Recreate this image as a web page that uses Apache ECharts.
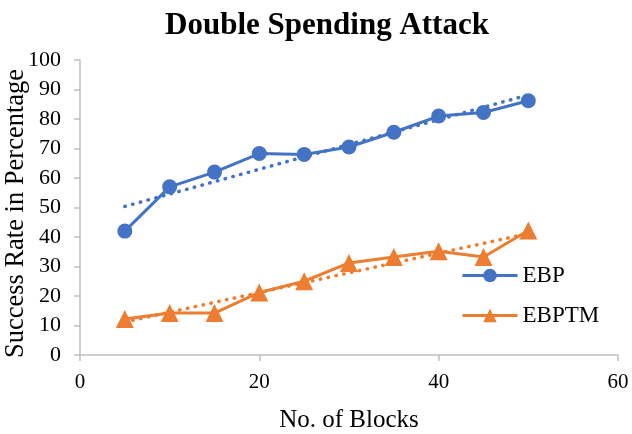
<!DOCTYPE html>
<html>
<head>
<meta charset="utf-8">
<script src="https://cdn.jsdelivr.net/npm/echarts@6/dist/echarts.min.js"></script>
<style>
  html, body { margin: 0; padding: 0; background: #fff; }
  #chart { width: 632px; height: 434px; }
</style>
</head>
<body>
<div id="chart"></div>
<script>
// Number of blocks on the x axis
const blocks = [5, 10, 15, 20, 25, 30, 35, 40, 45, 50];
// Success rate (%) per method
const ebp = [42, 57, 62, 68.3, 68, 70.5, 75.5, 81, 82.2, 86.2];
const ebptm = [12.2, 14.2, 14.2, 21.2, 25, 31.2, 33.2, 35.2, 33.2, 42.2];

const FONT = 'Liberation Serif';
const BLUE = '#4472C4';
const ORANGE = '#ED7D31';
const AXIS_GREY = '#BFBFBF';

// Least-squares linear trend over the data range
function linearTrend(xs, ys) {
  const n = xs.length;
  const mx = xs.reduce((a, b) => a + b, 0) / n;
  const my = ys.reduce((a, b) => a + b, 0) / n;
  let sxy = 0, sxx = 0;
  for (let i = 0; i < n; i++) {
    sxy += (xs[i] - mx) * (ys[i] - my);
    sxx += (xs[i] - mx) * (xs[i] - mx);
  }
  const k = sxy / sxx, b = my - k * mx;
  const x0 = xs[0], x1 = xs[n - 1];
  return [[x0, k * x0 + b], [x1, k * x1 + b]];
}

const pairs = (ys) => blocks.map((x, i) => [x, ys[i]]);

const chart = echarts.init(document.getElementById('chart'), null, { renderer: 'canvas' });

const axisLine = { show: true, lineStyle: { color: AXIS_GREY, width: 1.5 } };
const axisTick = { show: true, length: 6, lineStyle: { color: AXIS_GREY, width: 1.5 } };

function trendSeries(ys, color) {
  return {
    type: 'line',
    data: linearTrend(blocks, ys),
    symbol: 'none',
    silent: true,
    z: 1,
    lineStyle: { color: color, width: 3.5, type: [0.5, 7.5], cap: 'round' }
  };
}

chart.setOption({
  animation: false,
  backgroundColor: '#fff',
  textStyle: { fontFamily: FONT, color: '#000' },
  title: {
    text: 'Double Spending Attack',
    left: 322,
    textAlign: 'center',
    top: 5,
    textStyle: { fontFamily: FONT, fontSize: 31, fontWeight: 'bold', color: '#000' }
  },
  grid: { left: 80, right: 14, top: 60, bottom: 79, containLabel: false, outerBoundsMode: 'none' },
  legend: {
    data: ['EBP', 'EBPTM'],
    orient: 'vertical',
    left: 461,
    top: 264,
    padding: 0,
    itemWidth: 55,
    itemHeight: 17,
    itemGap: 17,
    lineStyle: { width: 3 },
    textStyle: { fontFamily: FONT, fontSize: 23, color: '#000' }
  },
  xAxis: {
    type: 'value',
    min: 0, max: 60, interval: 20,
    name: 'No. of Blocks',
    nameLocation: 'middle',
    nameGap: 53,
    nameMoveOverlap: false,
    nameTextStyle: { fontFamily: FONT, fontSize: 25, color: '#000' },
    axisLine: axisLine,
    axisTick: axisTick,
    axisLabel: { margin: 17, fontFamily: FONT, fontSize: 21, color: '#000' },
    splitLine: { show: false }
  },
  yAxis: {
    type: 'value',
    min: 0, max: 100, interval: 10,
    name: 'Success Rate in Percentage',
    nameLocation: 'middle',
    nameGap: 50,
    nameMoveOverlap: false,
    nameTextStyle: { fontFamily: FONT, fontSize: 26.5, color: '#000', padding: [0, 12, 0, 0] },
    axisLine: axisLine,
    axisTick: axisTick,
    axisLabel: { margin: 19, fontFamily: FONT, fontSize: 22, color: '#000' },
    splitLine: { show: false }
  },
  series: [
    trendSeries(ebp, BLUE),
    trendSeries(ebptm, ORANGE),
    {
      name: 'EBP',
      type: 'line',
      data: pairs(ebp),
      symbol: 'circle',
      symbolSize: 15,
      z: 3,
      itemStyle: { color: BLUE },
      lineStyle: { color: BLUE, width: 3 }
    },
    {
      name: 'EBPTM',
      type: 'line',
      data: pairs(ebptm),
      symbol: 'triangle',
      symbolSize: 18,
      z: 3,
      itemStyle: { color: ORANGE },
      lineStyle: { color: ORANGE, width: 3 }
    }
  ]
});
</script>
</body>
</html>
